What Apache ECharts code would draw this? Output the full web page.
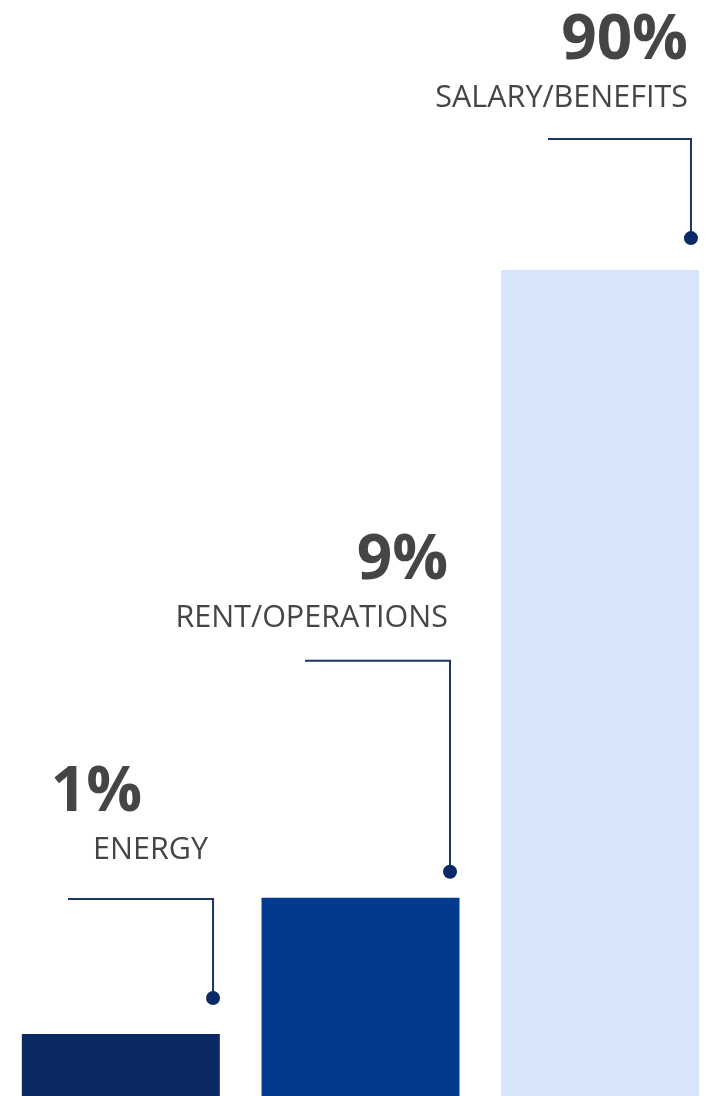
<!DOCTYPE html>
<html>
<head>
<meta charset="utf-8">
<script src="https://cdn.jsdelivr.net/npm/echarts@6/dist/echarts.min.js"></script>
<style>
html,body{margin:0;padding:0;background:#fff;overflow:hidden;}
#chart{width:720px;height:1096px;}
</style>
</head>
<body>
<div id="chart"></div>
<script>
// ---- data ----
const categories = ['ENERGY', 'RENT/OPERATIONS', 'SALARY/BENEFITS'];
const shareLabels = ['1%', '9%', '90%'];
const shareValues = [1, 9, 90];
// bar heights as drawn in the picture (relative, tallest bar = 100)
const barHeights = [7.5, 24, 100];

// ---- styles ----
const barColors = ['#0b2a62', '#013a8f', '#d7e5fb'];
const lineColor = '#1c3566';
const dotColor = '#0a2a66';
const textColor = '#454545';
// per-item annotation layout (pixels)
const annoLayout = [
  { dx: 92.2, dotGap: 36, leader: 99, arm: 145, catDx: -5, valDx: -71, catUp: 48.3, valUp: 105.5 },
  { dx: 89.5, dotGap: 26, leader: 211, arm: 145, catDx: -2, valDx: -2, catUp: 42.8, valUp: 99 },
  { dx: 90.8, dotGap: 32, leader: 99, arm: 143, catDx: -3, valDx: -3, catUp: 40.3, valUp: 97.5 }
];

const chart = echarts.init(document.getElementById('chart'), null, { renderer: 'canvas' });

const option = {
  animation: false,
  grid: { left: 1, right: 0, top: 0, bottom: 0, containLabel: false },
  xAxis: { type: 'category', data: categories, show: false },
  yAxis: { type: 'value', min: 0, max: 132.7, show: false },
  series: [
    {
      type: 'bar',
      barWidth: 198,
      data: barHeights.map((v, i) => ({ value: v, itemStyle: { color: barColors[i] } })),
      z: 2
    },
    {
      type: 'custom',
      data: barHeights.map((v, i) => [i, v]),
      z: 3,
      renderItem: function (params, api) {
        const i = api.value(0);
        const top = api.coord([i, api.value(1)]);
        const L = annoLayout[i];
        const dotX = top[0] + L.dx;
        const dotY = top[1] - L.dotGap;
        const lineY = dotY - L.leader;
        return {
          type: 'group',
          children: [
            {
              type: 'polyline',
              shape: { points: [[dotX - L.arm, lineY], [dotX, lineY], [dotX, dotY]] },
              style: { stroke: lineColor, lineWidth: 2, fill: null }
            },
            {
              type: 'circle',
              shape: { cx: dotX, cy: dotY, r: 7 },
              style: { fill: dotColor }
            },
            {
              type: 'text',
              style: {
                text: categories[i],
                x: dotX + L.catDx,
                y: lineY - L.catUp,
                align: 'right',
                verticalAlign: 'middle',
                fill: textColor,
                font: '400 30.5px "Open Sans"'
              }
            },
            {
              type: 'text',
              style: {
                text: shareLabels[i],
                x: dotX + L.valDx,
                y: lineY - L.valUp,
                align: 'right',
                verticalAlign: 'middle',
                fill: textColor,
                font: '700 62px "Open Sans"'
              }
            }
          ]
        };
      }
    }
  ]
};
chart.setOption(option);
</script>
</body>
</html>
